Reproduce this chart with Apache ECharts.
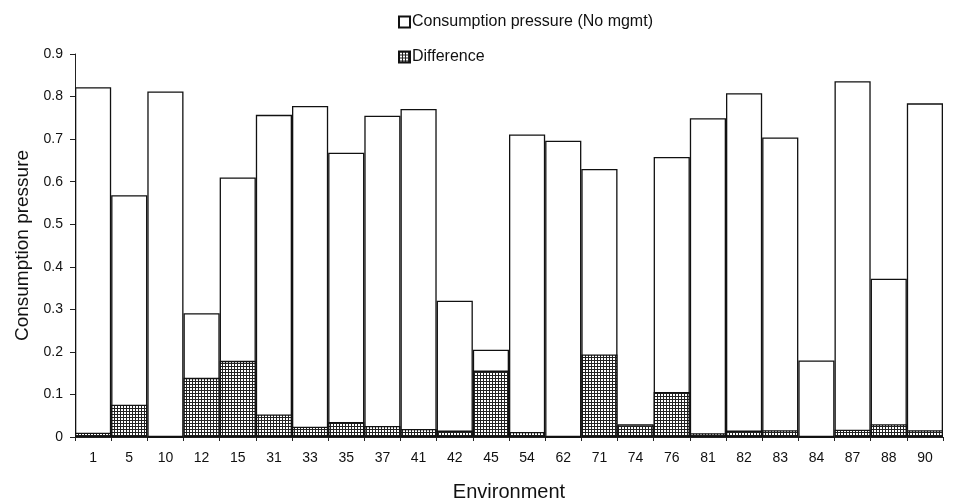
<!DOCTYPE html>
<html>
<head>
<meta charset="utf-8">
<script src="https://cdn.jsdelivr.net/npm/echarts@6/dist/echarts.min.js"></script>
<style>html,body{margin:0;padding:0;background:#fff}#c{width:957px;height:501px}</style>
</head>
<body>
<div id="c"></div>
<script>
var categories = ['1','5','10','12','15','31','33','35','37','41','42','45','54','62','71','74','76','81','82','83','84','87','88','90'];
var noMgmt = [0.822,0.568,0.812,0.291,0.610,0.757,0.778,0.668,0.755,0.771,0.320,0.205,0.711,0.696,0.630,0.030,0.658,0.749,0.808,0.704,0.180,0.836,0.372,0.784];
var difference = [0.010,0.076,0,0.139,0.179,0.053,0.024,0.035,0.026,0.019,0.015,0.156,0.012,0,0.194,0.027,0.106,0.009,0.015,0.016,0,0.017,0.030,0.016];
var yTicks = [0,0.1,0.2,0.3,0.4,0.5,0.6,0.7,0.8,0.9];

var pc = document.createElement('canvas');
pc.width = 3; pc.height = 3;
var pctx = pc.getContext('2d');
pctx.fillStyle = '#ffffff'; pctx.fillRect(0,0,3,3);
pctx.fillStyle = '#222222'; pctx.fillRect(0,0,3,1); pctx.fillRect(0,0,1,3);

var font = 'Liberation Sans, Arial, Helvetica, sans-serif';
var chart = echarts.init(document.getElementById('c'), null, {renderer:'canvas'});
chart.setOption({
  animation: false,
  backgroundColor: '#ffffff',
  textStyle: {fontFamily: font, color: '#111'},
  legend: {
    orient: 'vertical', left: 393, top: 9, itemGap: 19,
    itemWidth: 11, itemHeight: 11,
    icon: 'rect',
    textStyle: {fontSize: 16, color: '#111', fontFamily: font, padding: [0,0,0,-3]},
    data: ['Consumption pressure (No mgmt)', 'Difference']
  },
  grid: {left: 75, right: 14, top: 54, bottom: 64, containLabel: false, outerBoundsMode: 'none'},
  xAxis: {
    type: 'category', data: categories,
    name: 'Environment', nameLocation: 'middle', nameGap: 45,
    nameTextStyle: {fontSize: 20, color: '#111', fontFamily: font},
    axisLine: {lineStyle: {color: '#222', width: 1}},
    axisTick: {show: true, alignWithLabel: false, length: 4, lineStyle: {color: '#222'}},
    axisLabel: {fontSize: 14, color: '#111', margin: 14, fontFamily: font},
    splitLine: {show: false}
  },
  yAxis: {
    type: 'value', min: 0, max: 0.9, interval: 0.1,
    name: 'Consumption pressure', nameLocation: 'middle', nameGap: 43,
    nameTextStyle: {fontSize: 19, color: '#111', fontFamily: font},
    axisLine: {show: true, lineStyle: {color: '#222', width: 1}},
    axisTick: {show: true, length: 5, lineStyle: {color: '#222'}},
    axisLabel: {fontSize: 14, color: '#111', margin: 12, fontFamily: font,
      formatter: function(v){ var t = yTicks.find(function(x){return Math.abs(x-v)<1e-9;}); return t===undefined? '' : String(t); }},
    splitLine: {show: false}
  },
  series: [
    {
      name: 'Consumption pressure (No mgmt)', type: 'bar', data: noMgmt,
      barGap: '-100%', barCategoryGap: '0%',
      itemStyle: {color: '#ffffff', borderColor: '#111', borderWidth: 1.3},
      z: 2
    },
    {
      name: 'Difference', type: 'bar', data: difference,
      barGap: '-100%', barCategoryGap: '0%',
      itemStyle: {color: {image: pc, repeat: 'repeat'}, borderColor: '#111', borderWidth: 1.3},
      z: 3
    }
  ]
});
</script>
</body>
</html>
